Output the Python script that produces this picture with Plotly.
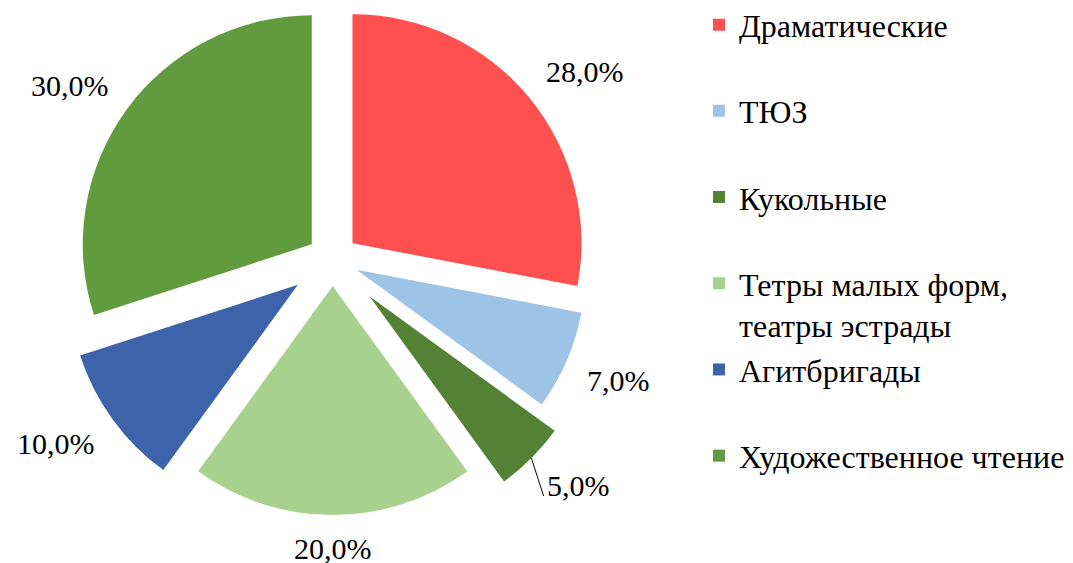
import math
import numpy as np
import plotly.graph_objects as go

# ---- data ----
CATEGORIES = ["Драматические", "ТЮЗ", "Кукольные",
              "Тетры малых форм,<br>театры эстрады", "Агитбригады",
              "Художественное чтение"]
VALUES = [28, 7, 5, 20, 10, 30]

# ---- style ----
COLORS = ["#FF5050", "#9DC3E6", "#548235", "#A9D18E", "#3D64AB", "#629B3E"]
EXPLODE = [0.112, 0.113, 0.227, 0.116, 0.188, 0.113]   # explosion, fraction of radius
LEADER = [False, False, True, False, False, False]      # leader line to data label
W, H = 1073, 563
PIE_CX, PIE_CY, PIE_R = 324.7, 251.5, 229.0             # pie centre / radius (px)
LABEL_GAP = 23.0                                        # px between arc and label corner
FONT = "Liberation Serif"
FS_LABEL = 30
FS_LEGEND = 32

total = float(sum(VALUES))
cum = np.concatenate([[0], np.cumsum(VALUES)])
n = len(VALUES)


def px_to_paper(x, y):
    return x / W, 1 - y / H


fig = go.Figure()
annotations = []
shapes = []

# each exploded slice is drawn by a pie whose centre is shifted along the slice bisector
for i in range(n):
    mid = 2 * math.pi * (cum[i] + VALUES[i] / 2.0) / total
    s, c = math.sin(mid), math.cos(mid)
    cx = PIE_CX + EXPLODE[i] * PIE_R * s
    cy = PIE_CY - EXPLODE[i] * PIE_R * c
    dom_x = [(cx - PIE_R) / W, (cx + PIE_R) / W]
    dom_y = [1 - (cy + PIE_R) / H, 1 - (cy - PIE_R) / H]
    fig.add_trace(go.Pie(
        labels=CATEGORIES, values=VALUES, sort=False, direction="clockwise", rotation=0,
        marker=dict(colors=[COLORS[j] if j == i else "rgba(0,0,0,0)" for j in range(n)],
                    line=dict(width=0)),
        textinfo="none",
        showlegend=False, hoverinfo="skip",
        domain=dict(x=dom_x, y=dom_y),
    ))

    # data label ("outside end" placement)
    pct = VALUES[i] / total * 100
    txt = ("%.1f%%" % pct).replace(".", ",")
    ndig = sum(ch.isdigit() for ch in txt)
    tw = FS_LABEL * (0.5 * ndig + 0.25 + 0.833) - 1.5
    th = FS_LABEL * 0.72
    px = cx + (PIE_R + LABEL_GAP) * s
    py = cy - (PIE_R + LABEL_GAP) * c
    sx = max(-1.0, min(1.0, 2.5 * s))
    sy = max(-1.0, min(1.0, -2.5 * c))
    lx = px + sx * tw / 2
    ly = py + sy * th / 2
    ax_, ay_ = px_to_paper(lx, ly)
    annotations.append(dict(x=ax_, y=ay_, xref="paper", yref="paper", text=txt,
                            showarrow=False, xanchor="center", yanchor="middle",
                            font=dict(family=FONT, size=FS_LABEL, color="black")))
    if LEADER[i]:
        x0, y0 = cx + PIE_R * s, cy - PIE_R * c
        x1, y1 = lx - tw / 2 - 4, ly + th / 2
        p0 = px_to_paper(x0, y0)
        p1 = px_to_paper(x1, y1)
        shapes.append(dict(type="line", xref="paper", yref="paper",
                           x0=p0[0], y0=p0[1], x1=p1[0], y1=p1[1],
                           line=dict(color="black", width=1)))

# legend entries: a zero-size pie carrying all categories
legend_names = [cname if "<br>" in cname else cname + "<br>\u00a0" for cname in CATEGORIES]
fig.add_trace(go.Pie(
    labels=legend_names, values=VALUES, sort=False, direction="clockwise",
    marker=dict(colors=COLORS, line=dict(width=0)),
    textinfo="none", hoverinfo="skip", showlegend=True,
    domain=dict(x=[0, 0.0001], y=[0, 0.0001]),
))

fig.update_layout(
    width=W, height=H,
    margin=dict(l=0, r=0, t=0, b=0, autoexpand=False),
    paper_bgcolor="white", plot_bgcolor="white",
    separators=", ",
    font=dict(family=FONT, size=FS_LEGEND, color="black"),
    annotations=annotations,
    shapes=shapes,
    legend=dict(x=(733 - 42) / W, y=0.55, xanchor="left", yanchor="middle",
                font=dict(family=FONT, size=FS_LEGEND, color="black"),
                valign="top", traceorder="normal",
                bgcolor="rgba(0,0,0,0)"),
)

fig.write_html("out.html")
